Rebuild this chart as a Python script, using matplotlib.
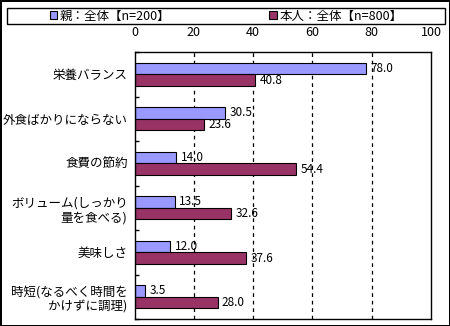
import numpy as np
import matplotlib
matplotlib.use('Agg')
import matplotlib.pyplot as plt
from matplotlib.patches import Rectangle, Patch

plt.rcParams['font.family'] = ['Noto Sans CJK JP', 'DejaVu Sans']
plt.rcParams['font.size'] = 9

categories = ['栄養バランス', '外食ばかりにならない', '食費の節約',
              'ボリューム(しっかり\n量を食べる)', '美味しさ',
              '時短(なるべく時間を\nかけずに調理)']
parent = [78.0, 30.5, 14.0, 13.5, 12.0, 3.5]
self_ = [40.8, 23.6, 54.4, 32.6, 37.6, 28.0]
series_names = ['親：全体【n=200】', '本人：全体【n=800】']
colors = ['#9999FF', '#993366']
xticks = [0, 20, 40, 60, 80, 100]

fig = plt.figure(figsize=(4.5, 3.26), dpi=100)
fig.patch.set_edgecolor('black')
fig.patch.set_linewidth(2)

ax = fig.add_axes([134.5 / 450, 1 - 319 / 326, (431 - 134.5) / 450, (319 - 52) / 326])

y = np.arange(len(categories))
h = 0.26
b1 = ax.barh(y - h / 2, parent, height=h, color=colors[0], edgecolor='black', linewidth=0.8)
b2 = ax.barh(y + h / 2, self_, height=h, color=colors[1], edgecolor='black', linewidth=0.8)

for bars, vals in [(b1, parent), (b2, self_)]:
    for rect, v in zip(bars, vals):
        ax.text(v + 1.5, rect.get_y() + rect.get_height() / 2, f'{v:.1f}',
                va='center', ha='left', fontsize=8.5)

ax.set_xlim(0, 100)
ax.set_ylim(len(categories) - 0.5, -0.5)
ax.set_xticks(xticks)
ax.xaxis.tick_top()
ax.tick_params(axis='x', length=0, pad=9)
ax.set_yticks(y)
ax.set_yticklabels(categories)
ax.tick_params(axis='y', length=0, pad=5)
ax.set_yticks(np.arange(len(categories) + 1) - 0.5, minor=True)
ax.tick_params(axis='y', which='minor', direction='in', length=3, width=1)

for gx in xticks[1:-1]:
    ax.axvline(gx, color='black', linestyle=(0, (3, 3)), linewidth=0.9, zorder=0)

for s in ax.spines.values():
    s.set_linewidth(1)

# legend frame across the full width
fig.patches.append(Rectangle((7 / 450, 1 - 24 / 326), 438 / 450, 16 / 326,
                             transform=fig.transFigure, fill=False,
                             edgecolor='black', linewidth=1))
handles = [Patch(facecolor=c, edgecolor='black', linewidth=0.8) for c in colors]
fig.legend(handles, series_names, loc='center', ncol=2,
           bbox_to_anchor=(226 / 450, 1 - 16 / 326), frameon=False,
           handlelength=0.6, handleheight=0.6, handletextpad=0.2,
           columnspacing=7.9, fontsize=9, borderpad=0)

fig.savefig('out.png', dpi=100)
